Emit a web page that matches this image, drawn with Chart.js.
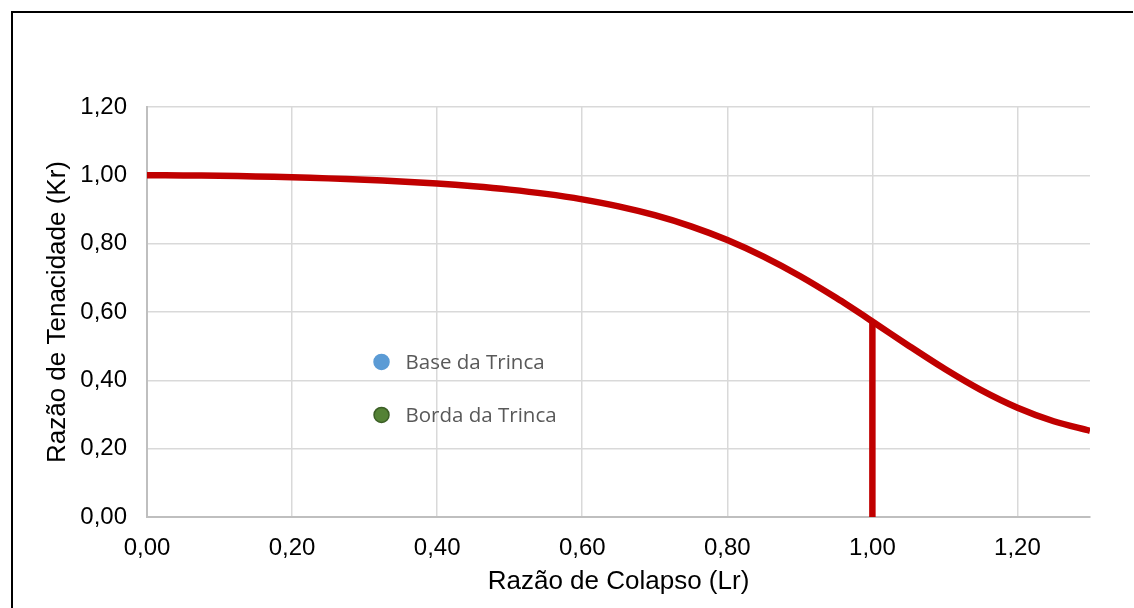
<!DOCTYPE html>
<html>
<head>
<meta charset="utf-8">
<script src="https://cdn.jsdelivr.net/npm/chart.js@4/dist/chart.umd.min.js"></script>
<style>
  html, body { margin: 0; padding: 0; background: #fff; overflow: hidden; }
  #wrap { position: relative; width: 1134px; height: 608px; }
  #frame { position: absolute; left: 11px; top: 11px; width: 1120px; height: 700px;
           border-left: 2px solid #000; border-top: 2px solid #000; pointer-events: none; }
  canvas { position: absolute; left: 0; top: 0; }
</style>
</head>
<body>
<div id="wrap">
  <canvas id="c" width="1134" height="608"></canvas>
  <div id="frame"></div>
</div>
<script>
// ---- data ----
const lr = [0.00,0.05,0.10,0.15,0.20,0.25,0.30,0.35,0.40,0.45,0.50,0.55,0.60,0.65,0.70,0.75,0.80,0.85,0.90,0.95,1.00,1.05,1.10,1.15,1.20,1.25,1.30];
const kr = [1.000,0.9997,0.9986,0.9969,0.9944,0.9911,0.9871,0.9820,0.9758,0.9680,0.9582,0.9457,0.9297,0.9093,0.8834,0.8508,0.8106,0.7620,0.7053,0.6414,0.5723,0.5014,0.4330,0.3713,0.3198,0.2802,0.2522];
const cutoffLr = [1.00, 1.00];
const cutoffKr = [0.00, 0.572];
const legendNames = ["Base da Trinca", "Borda da Trinca"];
const legendColors = ["#5B9BD5", "#548235"];
const legendBorders = ["#5B9BD5", "#3B5E25"];
const xTicks = [0.00,0.20,0.40,0.60,0.80,1.00,1.20];
const yTicks = [0.00,0.20,0.40,0.60,0.80,1.00,1.20];
const xTitle = "Razão de Colapso (Lr)";
const yTitle = "Razão de Tenacidade (Kr)";

const fmt = v => v.toFixed(2).replace('.', ',');

const datasets = [
  { label: 'FAD', data: lr.map((x, i) => ({ x: x, y: kr[i] })), showLine: true,
    borderColor: '#C00000', backgroundColor: '#C00000', borderWidth: 6.5,
    pointRadius: 0, tension: 0.3, fill: false, order: 1 },
  { label: 'Lr,max', data: cutoffLr.map((x, i) => ({ x: x, y: cutoffKr[i] })), showLine: true,
    borderColor: '#C00000', backgroundColor: '#C00000', borderWidth: 6.5,
    pointRadius: 0, tension: 0, fill: false, order: 2, borderCapStyle: 'butt' }
];
legendNames.forEach((n, i) => datasets.push({
  label: n, data: [], showLine: false, pointRadius: 7,
  backgroundColor: legendColors[i], borderColor: legendBorders[i], borderWidth: 1.5,
  isLegend: true
}));

const innerLegend = {
  id: 'innerLegend',
  afterDraw(chart) {
    const ctx = chart.ctx, a = chart.chartArea;
    const w = a.right - a.left, h = a.bottom - a.top;
    const items = chart.data.datasets.filter(d => d.isLegend);
    const x0 = a.left + 0.2487 * w;
    const y0 = a.top + 0.6217 * h;
    const dy = 0.1293 * h;
    ctx.save();
    items.forEach((d, i) => {
      const y = y0 + i * dy;
      ctx.beginPath();
      ctx.arc(x0, y, 7.5, 0, Math.PI * 2);
      ctx.fillStyle = d.backgroundColor;
      ctx.fill();
      ctx.lineWidth = d.borderWidth;
      ctx.strokeStyle = d.borderColor;
      ctx.stroke();
      ctx.fillStyle = '#595959';
      ctx.font = '20.5px "Open Sans"';
      ctx.textBaseline = 'middle';
      ctx.textAlign = 'left';
      ctx.fillText(d.label, x0 + 24, y + 1);
    });
    ctx.restore();
  }
};

new Chart(document.getElementById('c'), {
  type: 'scatter',
  data: { datasets },
  options: {
    responsive: false,
    animation: false,
    devicePixelRatio: 1,
    layout: { padding: { left: 0, right: 44, top: 107, bottom: 0 } },
    plugins: { legend: { display: false }, tooltip: { enabled: false } },
    scales: {
      x: {
        type: 'linear', min: 0, max: 1.3,
        afterFit(s) { s.height = 91; },
        afterBuildTicks(s) { s.ticks = xTicks.map(v => ({ value: v })); },
        ticks: { callback: v => fmt(v), color: '#000', font: { family: '"Liberation Sans", Arial', size: 24 }, padding: 17, maxRotation: 0 },
        grid: { color: '#d9d9d9', lineWidth: 1.5, drawTicks: false },
        border: { color: '#bfbfbf', width: 2 },
        title: { display: true, text: xTitle, color: '#000', font: { family: '"Liberation Sans", Arial', size: 26 }, padding: { top: 0, bottom: 11 } }
      },
      y: {
        type: 'linear', min: 0, max: 1.2,
        afterFit(s) { s.width = 147; },
        afterBuildTicks(s) { s.ticks = yTicks.map(v => ({ value: v })); },
        ticks: { callback: v => fmt(v), color: '#000', font: { family: '"Liberation Sans", Arial', size: 24 }, padding: 20 },
        grid: { color: '#d9d9d9', lineWidth: 1.5, drawTicks: false },
        border: { color: '#bfbfbf', width: 2 },
        title: { display: true, text: yTitle, color: '#000', font: { family: '"Liberation Sans", Arial', size: 26 }, padding: { top: 42, bottom: 0 } }
      }
    }
  },
  plugins: [innerLegend]
});
</script>
</body>
</html>
